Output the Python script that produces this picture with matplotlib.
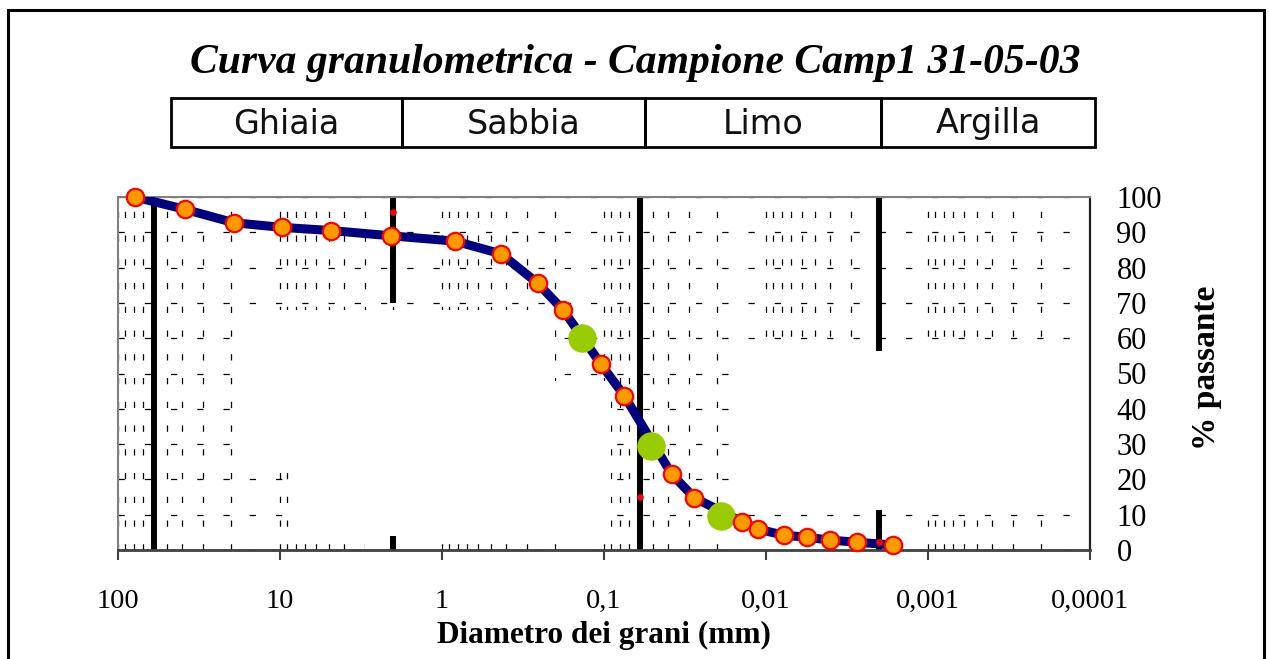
import matplotlib
matplotlib.use("Agg")
import matplotlib.pyplot as plt
from matplotlib.ticker import LogLocator, NullFormatter, FixedLocator, FixedFormatter
from matplotlib.patches import Rectangle

plt.rcParams['font.family'] = ['Liberation Serif', 'DejaVu Serif']

# ---------------- data ----------------
title = "Curva granulometrica - Campione Camp1 31-05-03"
classes = ["Ghiaia", "Sabbia", "Limo", "Argilla"]
x_label = "Diametro dei grani (mm)"
y_label = "% passante"

diam_mm = [78.5, 38.6, 19.2, 9.76, 4.84, 2.06, 0.832, 0.432, 0.257, 0.178,
           0.105, 0.075, 0.0382, 0.0277, 0.0141, 0.0112, 0.00774, 0.00558,
           0.00403, 0.00274, 0.00164]
passing = [100.0, 96.5, 92.7, 91.4, 90.5, 89.0, 87.5, 83.9, 75.6, 67.9,
           52.8, 43.7, 21.5, 14.8, 8.0, 5.9, 4.2, 3.6, 2.8, 2.2, 1.4]

# characteristic diameters D60, D30, D10
dchar_mm = [0.136, 0.0515, 0.019]
dchar_pass = [60.1, 29.5, 9.6]

# class boundaries (mm) and visible segments of their lines (% passing)
bounds_mm = [60, 2, 0.06, 0.002]
bound_segments = [[(0, 100)], [(70, 100), (0, 4)], [(0, 100)], [(56.5, 100), (0, 11.3)]]

# small red marks on the boundaries
mark_mm = [2, 0.06, 0.002]
mark_pass = [95.8, 15.0, 2.3]

xtick_vals = [100, 10, 1, 0.1, 0.01, 0.001, 0.0001]
xtick_labels = ["100", "10", "1", "0,1", "0,01", "0,001", "0,0001"]
ytick_vals = list(range(0, 101, 10))

# ---------------- figure ----------------
W, H = 1269, 659
fig = plt.figure(figsize=(W / 100, H / 100), dpi=100)

def fx(px):
    return px / W

def fy(py):
    return 1 - py / H

ax = fig.add_axes([fx(118), fy(550), fx(972), 353 / H])
ax.set_xscale('log')
ax.set_xlim(100, 0.0001)
ax.set_ylim(0, 100)

# grid (dotted/dashed look of the original)
ax.xaxis.set_major_locator(FixedLocator(xtick_vals))
ax.xaxis.set_major_formatter(FixedFormatter(xtick_labels))
ax.xaxis.set_minor_locator(LogLocator(base=10, subs=range(1, 10), numticks=100))
ax.xaxis.set_minor_formatter(NullFormatter())
ax.set_axisbelow(True)
ax.grid(True, which='both', axis='x', color='black', lw=0.9, linestyle=(0, (5, 14)))
ax.grid(True, which='major', axis='y', color='black', lw=0.9, linestyle=(0, (5, 16)))

# blank areas of the grid in the original
masks = [((17, 0.2), (25, 68)), ((8.5, 0.2), (6, 25)), ((0.2, 0.09), (3, 48)),
         ((3.0, 1.05), (0, 6)), ((0.0135, 0.0001), (12, 57)), ((0.0135, 0.0012), (0, 8.5))]
for (xa, xb), (ya, yb) in masks:
    ax.fill([xa, xb, xb, xa], [ya, ya, yb, yb], color='white', lw=0, zorder=1)

# class boundary lines
for b, segs in zip(bounds_mm, bound_segments):
    for y0, y1 in segs:
        ax.plot([b, b], [y0, y1], color='black', lw=4.3, solid_capstyle='butt', zorder=2)

# curve
ax.plot(diam_mm, passing, color='#000080', lw=6.5, solid_joinstyle='round',
        solid_capstyle='round', zorder=3)
ax.plot(dchar_mm, dchar_pass, ls='none', marker='o', ms=19.5, mfc='#99CC00',
        mec='#99CC00', zorder=5)
ax.plot(diam_mm, passing, ls='none', marker='o', ms=12.5, mfc='#FF9900',
        mec='#FF0000', mew=1.6, zorder=6, clip_on=False)
ax.plot(mark_mm, mark_pass, ls='none', marker='o', ms=3.8, mfc='#FF0000',
        mec='#FF0000', zorder=4)

# spines
for s in ['left', 'top']:
    ax.spines[s].set_color('#808080')
    ax.spines[s].set_linewidth(1.5)
ax.spines['right'].set_color('#202020')
ax.spines['right'].set_linewidth(1.6)
ax.spines['bottom'].set_color('#404040')
ax.spines['bottom'].set_linewidth(2.0)

ax.tick_params(axis='x', which='major', direction='out', length=7, width=1.5,
               color='#404040', labelsize=20.5, pad=21)
ax.tick_params(axis='x', which='minor', length=0)
ax.yaxis.tick_right()
ax.set_yticks(ytick_vals)
ax.tick_params(axis='y', length=0, labelsize=22, pad=19)

# labels
fig.text(fx(604), fy(643), x_label, ha='center', va='baseline', fontsize=22.5, fontweight='bold')
fig.text(fx(1207), fy(368), y_label, ha='center', va='center', fontsize=24,
         fontweight='bold', rotation=90)
fig.text(fx(635), fy(63), title, ha='center', va='center', fontsize=30,
         fontweight='bold', fontstyle='italic')

# class boxes
edges = [171, 402, 645, 881, 1095]
for i, name in enumerate(classes):
    x0, x1 = edges[i], edges[i + 1]
    fig.patches.append(Rectangle((fx(x0), fy(147)), fx(x1 - x0), 49 / H, fill=False,
                                 ec='black', lw=2.0, transform=fig.transFigure))
    fig.text(fx((x0 + x1) / 2), fy(124), name, ha='center', va='center',
             fontsize=24, family=['DejaVu Sans'], color='#111111')

# outer frame
fig.patches.append(Rectangle((fx(8), -0.05), fx(1256), 1 - 10 / H + 0.05, fill=False,
                             ec='black', lw=2.2, transform=fig.transFigure))

fig.savefig("out.png", dpi=100)
